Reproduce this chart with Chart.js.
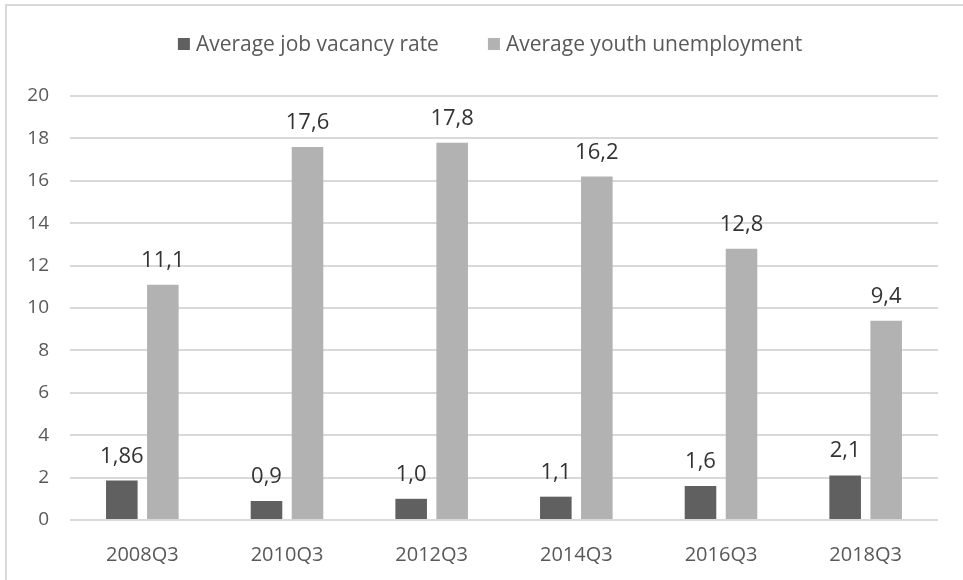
<!DOCTYPE html>
<html>
<head>
<meta charset="utf-8">
<script src="https://cdn.jsdelivr.net/npm/chart.js@4/dist/chart.umd.min.js"></script>
<style>
  html, body { margin: 0; padding: 0; background: #ffffff; overflow: hidden; }
  #frame { position: absolute; left: 5px; top: 4px; width: 990px; height: 620px;
           border: 2px solid #d9d9d9; box-sizing: border-box; }
  #wrap { position: absolute; left: 0; top: 0; width: 963px; height: 580px; }
</style>
</head>
<body>
<div id="frame"></div>
<div id="wrap"><canvas id="chart" width="963" height="580"></canvas></div>
<script>
// Quarters on the category axis
const quarters = ['2008Q3', '2010Q3', '2012Q3', '2014Q3', '2016Q3', '2018Q3'];

// Series values (percent)
const vacancyRate = [1.86, 0.9, 1.0, 1.1, 1.6, 2.1];
const youthUnemployment = [11.1, 17.6, 17.8, 16.2, 12.8, 9.4];

// Decimal places shown in each value label
const vacancyDecimals = [2, 1, 1, 1, 1, 1];
const youthDecimals = [1, 1, 1, 1, 1, 1];

// Value axis range
const yMin = 0;
const yMax = 20;
const yStep = 2;

const seriesNames = ['Average job vacancy rate', 'Average youth unemployment'];
const seriesColors = ['#606060', '#b2b2b2'];

Chart.defaults.font.family = '"Open Sans", sans-serif';

// Value labels above each bar, written with a decimal comma
const valueLabels = {
  id: 'valueLabels',
  afterDatasetsDraw(chart, args, opts) {
    const ctx = chart.ctx;
    ctx.save();
    ctx.font = opts.size + 'px "Open Sans", sans-serif';
    ctx.fillStyle = opts.color;
    ctx.textAlign = 'center';
    ctx.textBaseline = 'alphabetic';
    chart.data.datasets.forEach((ds, di) => {
      const meta = chart.getDatasetMeta(di);
      meta.data.forEach((bar, i) => {
        const txt = ds.data[i].toFixed(ds.decimals[i]).replace('.', ',');
        ctx.fillText(txt, bar.x, bar.y - opts.offset);
      });
    });
    ctx.restore();
  }
};

// Legend row centred above the plot
const topLegend = {
  id: 'topLegend',
  afterDraw(chart, args, opts) {
    const ctx = chart.ctx;
    ctx.save();
    ctx.font = opts.size + 'px "Open Sans", sans-serif';
    const items = chart.data.datasets.map(ds => ({
      text: ds.label, color: ds.backgroundColor, w: ctx.measureText(ds.label).width
    }));
    let total = 0;
    items.forEach((it, i) => {
      total += opts.box + opts.textGap + it.w + (i < items.length - 1 ? opts.itemGap : 0);
    });
    let x = opts.centerX - total / 2;
    ctx.textBaseline = 'alphabetic';
    ctx.textAlign = 'left';
    items.forEach(it => {
      ctx.fillStyle = it.color;
      ctx.fillRect(x, opts.boxTop, opts.box, opts.box);
      x += opts.box + opts.textGap;
      ctx.fillStyle = opts.color;
      ctx.fillText(it.text, x, opts.baseline);
      x += it.w + opts.itemGap;
    });
    ctx.restore();
  }
};

new Chart(document.getElementById('chart'), {
  type: 'bar',
  data: {
    labels: quarters,
    datasets: [
      { label: seriesNames[0], data: vacancyRate, decimals: vacancyDecimals,
        backgroundColor: seriesColors[0] },
      { label: seriesNames[1], data: youthUnemployment, decimals: youthDecimals,
        backgroundColor: seriesColors[1] }
    ]
  },
  options: {
    responsive: false,
    animation: false,
    devicePixelRatio: 1,
    layout: { padding: { top: 96, right: 25, bottom: 0, left: 0 } },
    datasets: {
      bar: { categoryPercentage: 0.567, barPercentage: 0.77 }
    },
    scales: {
      x: {
        grid: { display: false },
        border: { display: false },
        ticks: { color: '#595959', font: { size: 20 }, padding: 15, maxRotation: 0 },
        afterFit(scale) { scale.height = 60; }
      },
      y: {
        min: yMin,
        max: yMax,
        ticks: { stepSize: yStep, color: '#595959', font: { size: 19 }, padding: 21 },
        grid: { color: '#d9d9d9', lineWidth: 2, drawTicks: false },
        border: { display: false },
        afterFit(scale) { scale.width = 70; }
      }
    },
    plugins: {
      legend: { display: false },
      tooltip: { enabled: false },
      valueLabels: { size: 22, color: '#333333', offset: 18 },
      topLegend: { size: 21, color: '#595959', box: 12, textGap: 6, itemGap: 49,
                   centerX: 490, boxTop: 38, baseline: 51 }
    }
  },
  plugins: [valueLabels, topLegend]
});
</script>
</body>
</html>
